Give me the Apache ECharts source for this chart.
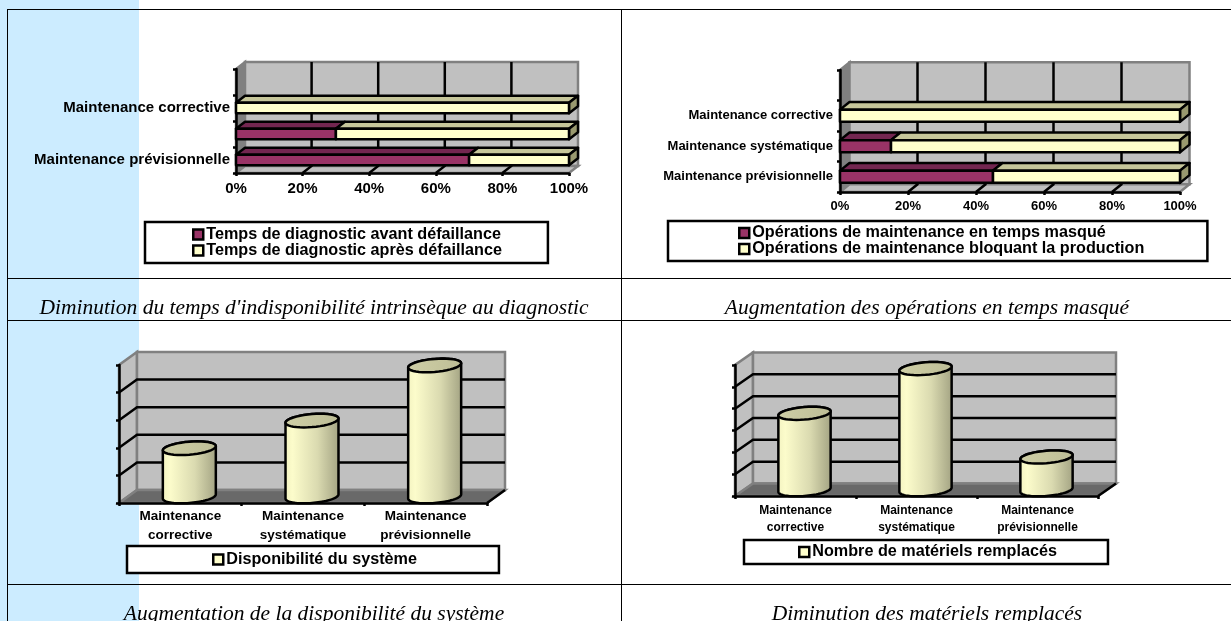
<!DOCTYPE html>
<html>
<head>
<meta charset="utf-8">
<style>
  html, body { margin: 0; padding: 0; background: #fff; overflow: hidden; }
  #main { width: 1231px; height: 621px; }
</style>
</head>
<body>
<div id="main"></div>
<script src="https://cdn.jsdelivr.net/npm/echarts@6/dist/echarts.min.js"></script>
<script>
// valeurs
const barCatsA = ['Maintenance prévisionnelle', '', 'Maintenance corrective', ''];
const barCatsB = ['Maintenance prévisionnelle', 'Maintenance systématique', 'Maintenance corrective', ''];
const avantDefaillance = [70, 30, 0];
const apresDefaillance = [30, 70, 100];
const tempsMasque = [45, 15, 0];
const bloquantProd = [55, 85, 100];
const percentTicks = [0, 20, 40, 60, 80, 100];

const cylCats = ['Maintenance\ncorrective', 'Maintenance\nsystématique', 'Maintenance\nprévisionnelle'];
const disponibilite = [1.75, 2.75, 4.75];
const materiels = [3.5, 5.55, 1.5];
const dispoTicks = [0, 1, 2, 3, 4, 5];
const materielTicks = [0, 1, 2, 3, 4, 5, 6];

const captions = [
  "Diminution du temps d'indisponibilité intrinsèque au diagnostic",
  'Augmentation des opérations en temps masqué',
  'Augmentation de la disponibilité du système',
  'Diminution des matériels remplacés'
];

const FONT = '"Liberation Sans", Arial, sans-serif';
const MAROON = '#993366', MAROON_TOP = '#732650';
const CREAM = '#FFFFCC', CREAM_TOP = '#C6C69A', CREAM_SIDE = '#99996F';
const WALL = '#C0C0C0', DARK = '#808080', EDGE = '#808080', FLOOR = '#696969';
const STROKE = 2.5;

// murs et quadrillage (3D simulee)
function wallItem(cfg) {
  return function (params, api) {
    const r = params.coordSys;
    const dx = cfg.dx, dy = cfg.dy;
    const L = r.x, R = r.x + r.width, T = r.y, B = r.y + r.height;
    const kids = [];
    const edge = { stroke: EDGE, lineWidth: 2.5 };
    kids.push({ type: 'polygon', shape: { points: [[L, B], [L, T], [L + dx, T - dy], [L + dx, B - dy]] },
      style: Object.assign({ fill: cfg.sideFill }, edge) });
    kids.push({ type: 'rect', shape: { x: L + dx, y: T - dy, width: r.width, height: r.height },
      style: Object.assign({ fill: WALL }, edge) });
    kids.push({ type: 'polygon', shape: { points: [[L, B], [R, B], [R + dx, B - dy], [L + dx, B - dy]] },
      style: Object.assign({ fill: cfg.floorFill }, edge) });
    const black = { stroke: '#000', lineWidth: STROKE, fill: null };
    cfg.ticks.slice(1, -1).forEach(function (t) {
      if (cfg.horizontal) {
        const x = api.coord([t, 0])[0];
        kids.push({ type: 'polyline', shape: { points: [[x, B], [x + dx, B - dy], [x + dx, T - dy]] }, style: black });
      } else {
        const y = api.coord([0, t])[1];
        kids.push({ type: 'polyline', shape: { points: [[L, y], [L + dx, y - dy], [R + dx, y - dy]] }, style: black });
      }
    });
    if (!cfg.horizontal) {
      kids.push({ type: 'line', shape: { x1: R, y1: B, x2: R + dx, y2: B - dy }, style: black });
    }
    return { type: 'group', children: kids };
  };
}

// barre empilee en faux relief
function barItem(cfg, front, top, side) {
  return function (params, api) {
    const a = api.coord([api.value(0), api.value(2)]);
    const b = api.coord([api.value(1), api.value(2)]);
    if (b[0] - a[0] <= 0) return null;
    const h = api.size([0, 1])[1] * 0.4;
    const y0 = a[1] - h / 2, y1 = a[1] + h / 2;
    const line = { stroke: '#000', lineWidth: STROKE, lineJoin: 'round' };
    const kids = [
      { type: 'polygon', shape: { points: [[a[0], y0], [b[0], y0], [b[0] + cfg.dx, y0 - cfg.dy], [a[0] + cfg.dx, y0 - cfg.dy]] },
        style: Object.assign({ fill: top }, line) }
    ];
    if (side) {
      kids.push({ type: 'polygon', shape: { points: [[b[0], y0], [b[0] + cfg.dx, y0 - cfg.dy], [b[0] + cfg.dx, y1 - cfg.dy], [b[0], y1]] },
        style: Object.assign({ fill: side }, line) });
    }
    kids.push({ type: 'rect', shape: { x: a[0], y: y0, width: b[0] - a[0], height: h },
      style: Object.assign({ fill: front }, line) });
    return { type: 'group', children: kids };
  };
}

function ellipsePts(cx, cy, rx, ry, from, to) {
  const pts = [];
  for (let i = 0; i <= 40; i++) {
    const t = from + (to - from) * i / 40;
    pts.push([cx + rx * Math.cos(t), cy + ry * Math.sin(t) - rx * 0.08 * Math.cos(t)]);
  }
  return pts;
}

// cylindre : corps + ellipse du haut
function cylinderItem(cfg) {
  return function (params, api) {
    const base = api.coord([api.value(0), 0]);
    const head = api.coord([api.value(0), api.value(1)]);
    const cx = base[0] + cfg.dx / 2;
    const yb = base[1] - cfg.dy / 2;
    const yt = head[1] - cfg.dy / 2;
    const rx = api.size([1, 0])[0] * cfg.radius;
    const ry = cfg.dy * 0.5;
    const body = ellipsePts(cx, yb, rx, ry, 0, Math.PI).concat(ellipsePts(cx, yt, rx, ry, Math.PI, 2 * Math.PI));
    const line = { stroke: '#000', lineWidth: STROKE };
    return { type: 'group', children: [
      { type: 'polygon', shape: { points: body }, style: Object.assign({
        fill: new echarts.graphic.LinearGradient(0, 0, 1, 0, [
          { offset: 0, color: '#F2F2C0' }, { offset: 0.15, color: '#FCFCCB' },
          { offset: 0.6, color: '#DADAB0' }, { offset: 1, color: '#A2A282' }
        ]) }, line) },
      { type: 'polygon', shape: { points: ellipsePts(cx, yt, rx, ry, 0, 2 * Math.PI) }, style: Object.assign({
        fill: new echarts.graphic.LinearGradient(0, 0, 1, 0, [
          { offset: 0, color: '#CFCFA6' }, { offset: 1, color: '#BDBD96' }
        ]) }, line) }
    ] };
  };
}

function stackData(first, second) {
  const a = [], b = [];
  first.forEach(function (v, i) {
    a.push([0, v, i]);
    b.push([v, v + second[i], i]);
  });
  return [a, b];
}

const grids = [
  { left: 236, top: 69, width: 333, height: 104 },
  { left: 840, top: 70, width: 340, height: 122 },
  { left: 119, top: 365, width: 368, height: 138 },
  { left: 735, top: 365, width: 363, height: 131 }
];
const depth = [
  { dx: 9, dy: 7 },
  { dx: 9.5, dy: 7.7 },
  { dx: 18, dy: 13 },
  { dx: 18, dy: 12.5 }
];

const xAxes = [], yAxes = [], series = [];
const axisLine = { show: true, onZero: false, lineStyle: { color: '#000', width: STROKE } };
const axisTick = { show: true, length: 3, lineStyle: { color: '#000', width: STROKE } };

function barChart(idx, cats, names, first, second, fontSize, catMargin, valMargin) {
  const cfg = depth[idx];
  xAxes.push({ gridIndex: idx, type: 'value', min: 0, max: 100, interval: 20, axisLine: axisLine, axisTick: axisTick,
    splitLine: { show: false },
    axisLabel: { formatter: '{value}%', color: '#000', fontFamily: FONT, fontWeight: 'bold', fontSize: fontSize, margin: valMargin } });
  yAxes.push({ gridIndex: idx, type: 'category', data: cats, axisLine: axisLine, axisTick: axisTick, splitLine: { show: false },
    axisLabel: { color: '#000', fontFamily: FONT, fontWeight: 'bold', fontSize: fontSize, margin: catMargin, interval: 0, padding: [3, 0, 0, 0] } });
  series.push({ type: 'custom', name: 'mur' + idx, xAxisIndex: idx, yAxisIndex: idx, z: -1, silent: true,
    data: [[0, 0, 0]], encode: { x: 0, y: 2 },
    renderItem: wallItem({ dx: cfg.dx, dy: cfg.dy, ticks: percentTicks, horizontal: true, sideFill: DARK, floorFill: WALL }) });
  const stacked = stackData(first, second);
  series.push({ type: 'custom', name: names[0], xAxisIndex: idx, yAxisIndex: idx, z: 2, itemStyle: { color: MAROON },
    data: stacked[0], encode: { x: [0, 1], y: 2 },
    renderItem: barItem(cfg, MAROON, MAROON_TOP) });
  series.push({ type: 'custom', name: names[1], xAxisIndex: idx, yAxisIndex: idx, z: 3, itemStyle: { color: CREAM },
    data: stacked[1], encode: { x: [0, 1], y: 2 },
    renderItem: barItem(cfg, CREAM, CREAM_TOP, CREAM_SIDE) });
}

function cylChart(idx, name, values, ticks, fontSize, lineHeight, margin) {
  const cfg = depth[idx];
  xAxes.push({ gridIndex: idx, type: 'category', data: cylCats, axisLine: axisLine, axisTick: axisTick, splitLine: { show: false },
    axisLabel: { color: '#000', fontFamily: FONT, fontWeight: 'bold', fontSize: fontSize, lineHeight: lineHeight, margin: margin, interval: 0 } });
  yAxes.push({ gridIndex: idx, type: 'value', min: 0, max: ticks[ticks.length - 1], interval: 1, axisLine: axisLine, axisTick: axisTick,
    splitLine: { show: false }, axisLabel: { show: false } });
  series.push({ type: 'custom', name: 'mur' + idx, xAxisIndex: idx, yAxisIndex: idx, z: -1, silent: true,
    data: [[0, 0]], encode: { x: 0, y: 1 },
    renderItem: wallItem({ dx: cfg.dx, dy: cfg.dy, ticks: ticks, horizontal: false, sideFill: WALL, floorFill: FLOOR }) });
  series.push({ type: 'custom', name: name, xAxisIndex: idx, yAxisIndex: idx, z: 2, itemStyle: { color: CREAM },
    data: values.map(function (v, i) { return [i, v]; }), encode: { x: 0, y: 1 },
    renderItem: cylinderItem({ dx: cfg.dx, dy: cfg.dy, radius: 0.216 }) });
}

barChart(0, barCatsA, ['Temps de diagnostic avant défaillance', 'Temps de diagnostic après défaillance'], avantDefaillance, apresDefaillance, 15, 6, 8);
barChart(1, barCatsB, ['Opérations de maintenance en temps masqué', 'Opérations de maintenance bloquant la production'], tempsMasque, bloquantProd, 13, 7, 8);
cylChart(2, 'Disponibilité du système', disponibilite, dispoTicks, 13.5, 19, 4);
cylChart(3, 'Nombre de matériels remplacés', materiels, materielTicks, 12, 17, 6);

function legendAt(left, top, names, padL, padR, padV) {
  return {
    left: left, top: top, orient: 'vertical', itemGap: 0, itemWidth: 10, itemHeight: 10, icon: 'rect',
    padding: [padV, padR, padV, padL], backgroundColor: '#fff', borderColor: '#000', borderWidth: 2.5,
    selectedMode: false, data: names,
    itemStyle: { borderColor: '#000', borderWidth: 2.5 },
    textStyle: { color: '#000', fontFamily: FONT, fontWeight: 'bold', fontSize: 16.2, padding: [0, 0, 0, -2] }
  };
}

function hline(y, x1, x2) {
  return { type: 'line', z: -5, shape: { x1: x1, y1: y, x2: x2, y2: y }, style: { stroke: '#000', lineWidth: 1 } };
}
function vline(x, y1, y2) {
  return { type: 'line', z: -5, shape: { x1: x, y1: y1, x2: x, y2: y2 }, style: { stroke: '#000', lineWidth: 1 } };
}

const captionX = [314, 927, 314, 927];
const captionY = [297, 297, 603, 603];

const option = {
  animation: false,
  backgroundColor: '#fff',
  grid: grids,
  xAxis: xAxes,
  yAxis: yAxes,
  series: series,
  legend: [
    legendAt(145, 222, ['Temps de diagnostic avant défaillance', 'Temps de diagnostic après défaillance'], 47, 46, 4.5),
    legendAt(668, 221, ['Opérations de maintenance en temps masqué', 'Opérations de maintenance bloquant la production'], 70, 63, 4),
    legendAt(127, 546, ['Disponibilité du système'], 85, 82, 5.5),
    legendAt(744, 540, ['Nombre de matériels remplacés'], 54, 51, 4)
  ],
  title: captions.map(function (c, i) {
    return { text: c, left: captionX[i], top: captionY[i], textAlign: 'center', padding: 0,
      textStyle: { color: '#000', fontFamily: '"Liberation Serif", serif', fontStyle: 'italic', fontWeight: 'normal', fontSize: 21.5 } };
  }),
  graphic: [
    { type: 'rect', z: -10, shape: { x: 0, y: 0, width: 139, height: 621 }, style: { fill: '#CCECFF' } },
    hline(9.5, 7, 1231), hline(278.5, 7, 1231), hline(320.5, 7, 1231), hline(584.5, 7, 1231),
    vline(7.5, 9, 621), vline(621.5, 9, 621)
  ]
};

const chart = echarts.init(document.getElementById('main'), null, { renderer: 'canvas' });
chart.setOption(option);
</script>
</body>
</html>
